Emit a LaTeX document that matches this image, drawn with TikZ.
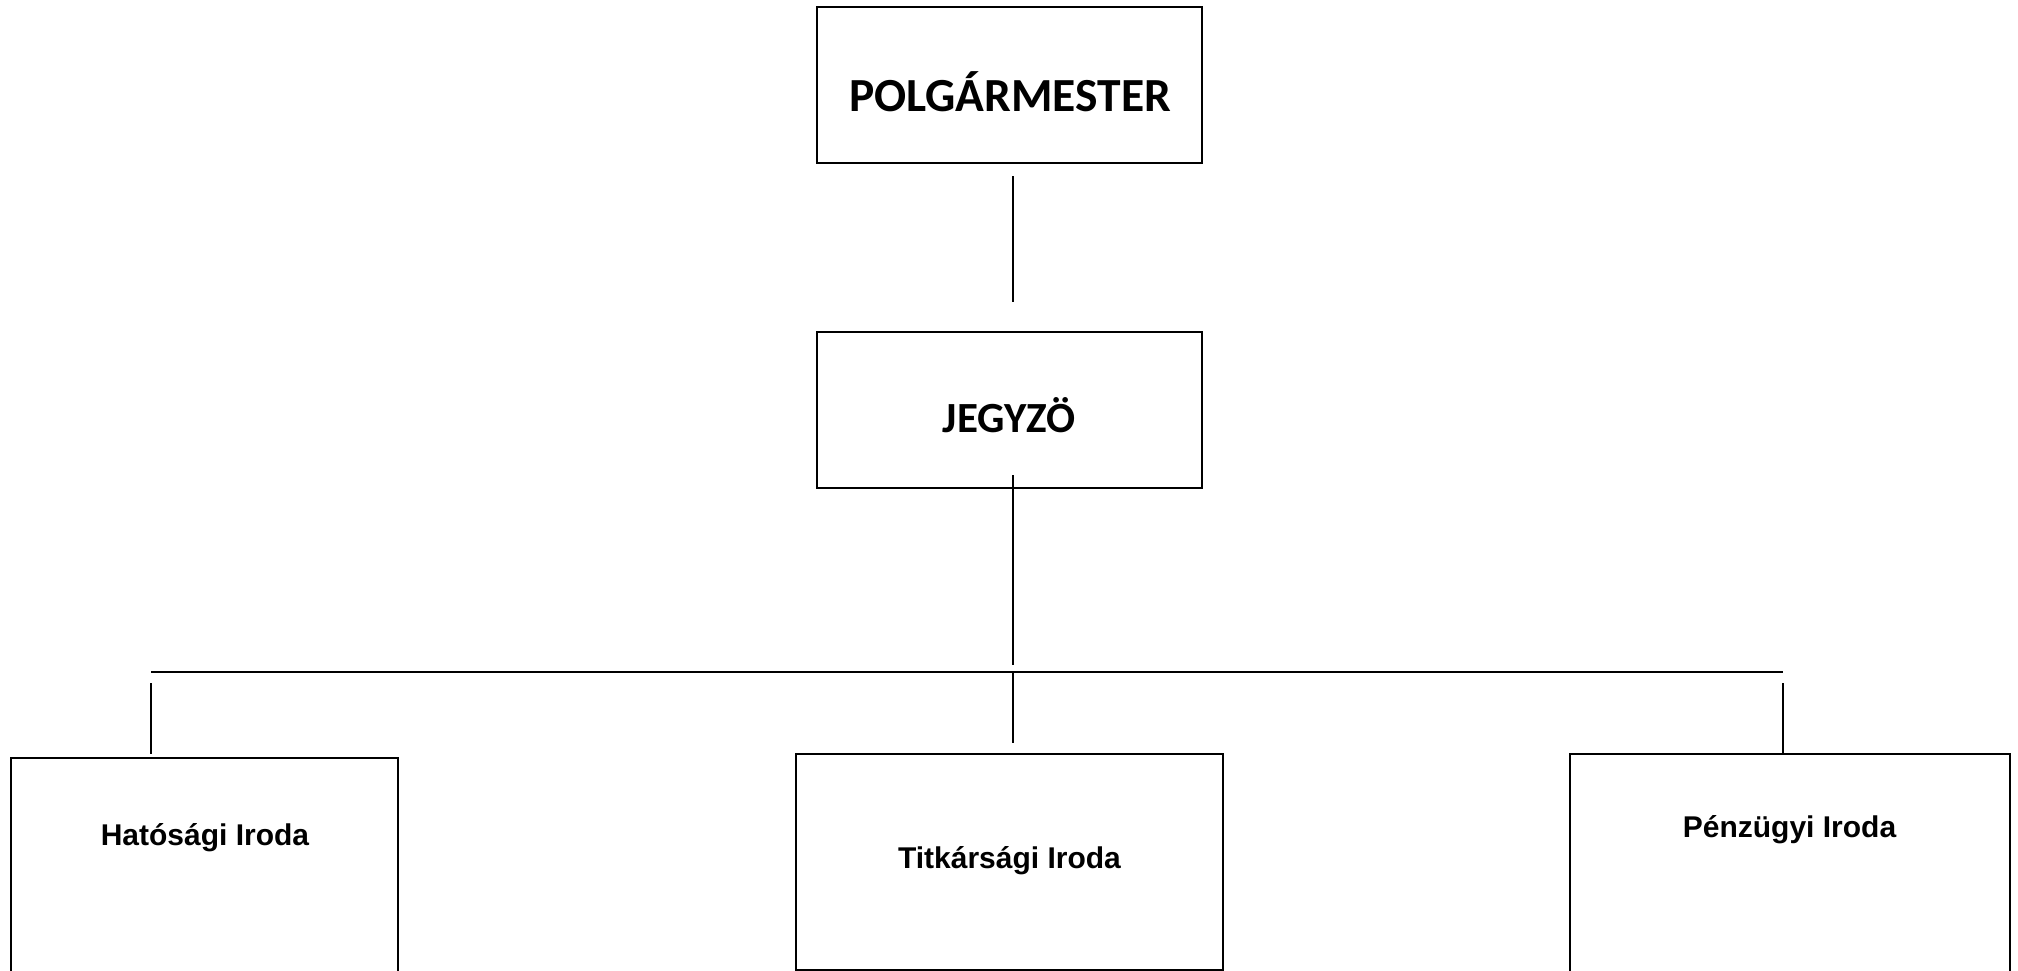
\documentclass[tikz,border=0pt]{standalone}
\usepackage{fontspec}
\newfontfamily\calib{Carlito}
\newfontfamily\arialf{Liberation Sans}
\begin{document}
\begin{tikzpicture}[x=1pt,y=1pt,
  box/.style={draw=black,line width=2pt,rectangle,inner sep=0pt},
  conn/.style={draw=black,line width=2pt},
  toptext/.style={anchor=base,inner sep=0pt,font=\calib\bfseries\fontsize{47.5}{52}\selectfont},
  midtext/.style={anchor=base,inner sep=0pt,font=\calib\bfseries\fontsize{43}{48}\selectfont},
  lowtext/.style={anchor=base,inner sep=0pt,font=\arialf\bfseries\fontsize{30}{36}\selectfont}]
\useasboundingbox (0,0) rectangle (2018,-971);
\clip (0,0) rectangle (2018,-971);
% boxes
\node[box,minimum width=385,minimum height=156] (polg) at (1009.5,-85) {};
\node[box,minimum width=385,minimum height=156] (jegy) at (1009.5,-410) {};
\node[box,minimum width=387,minimum height=242] (hat) at (204.5,-879) {};
\node[box,minimum width=427,minimum height=216] (titk) at (1009.5,-862) {};
\node[box,minimum width=440,minimum height=246] (penz) at (1790,-877) {};
% texts
\node[toptext] (polgt) at (1010,-112) {POLGÁRMESTER};
\node[midtext] (jegyt) at (1009,-432) {JEGYZÖ};
\node[lowtext] (hatt) at (205,-845) {Hatósági Iroda};
\node[lowtext] (titkt) at (1009.5,-868) {Titkársági Iroda};
\node[lowtext] (penzt) at (1789.5,-837) {Pénzügyi Iroda};
% connector points
\coordinate (a1) at (1013,-176);
\coordinate (a2) at (1013,-302);
\coordinate (b1) at (1013,-475);
\coordinate (b2) at (1013,-665);
\coordinate (busL) at (151,-672);
\coordinate (busM) at (1013,-672);
\coordinate (busR) at (1783,-672);
\coordinate (dL) at (151,-683);
\coordinate (dLe) at (151,-754);
\coordinate (dMe) at (1013,-743);
\coordinate (dR) at (1783,-683);
\coordinate (dRe) at (1783,-754);
\draw[conn] (a1) -- (a2);
\draw[conn] (b1) -- (b2);
\draw[conn] (busL) -- (busR);
\draw[conn] (dL) -- (dLe);
\draw[conn] (busM) -- (dMe);
\draw[conn] (dR) -- (dRe);
\end{tikzpicture}
\end{document}
